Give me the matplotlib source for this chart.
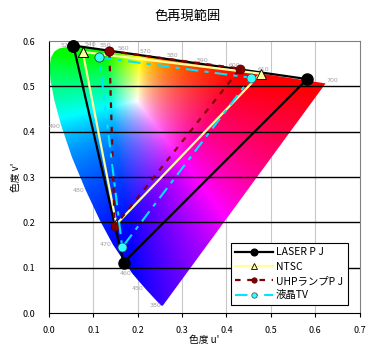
import numpy as np
import matplotlib
matplotlib.use('Agg')
import matplotlib.pyplot as plt
from matplotlib.path import Path
from matplotlib.patches import PathPatch

plt.rcParams['font.family'] = ['Noto Sans CJK JP', 'DejaVu Sans']

# spectral locus (CIE 1931 xy), wavelength in nm
wl = [380, 400, 420, 440, 450, 460, 470, 475, 480, 485, 490, 495, 500, 505, 510,
      515, 520, 525, 530, 535, 540, 545, 550, 555, 560, 570, 580, 590, 600, 610,
      620, 640, 660, 700]
loc_x = [0.1741, 0.1733, 0.1714, 0.1644, 0.1566, 0.1440, 0.1241, 0.1096, 0.0913,
         0.0687, 0.0454, 0.0235, 0.0082, 0.0039, 0.0139, 0.0389, 0.0743, 0.1142,
         0.1547, 0.1929, 0.2296, 0.2658, 0.3016, 0.3373, 0.3731, 0.4441, 0.5125,
         0.5752, 0.6270, 0.6658, 0.6915, 0.7190, 0.7300, 0.7347]
loc_y = [0.0050, 0.0048, 0.0051, 0.0109, 0.0177, 0.0297, 0.0578, 0.0868, 0.1327,
         0.2007, 0.2950, 0.4127, 0.5384, 0.6548, 0.7502, 0.8120, 0.8338, 0.8262,
         0.8059, 0.7816, 0.7543, 0.7243, 0.6923, 0.6589, 0.6245, 0.5547, 0.4866,
         0.4242, 0.3725, 0.3340, 0.3083, 0.2809, 0.2700, 0.2653]
lbl_wl = [380, 450, 460, 470, 480, 490, 520, 540, 550, 560, 570, 580, 590, 600, 610, 700]

# gamut primaries (G, R, B) in u'v'
laser_u = [0.055, 0.582, 0.168]
laser_v = [0.590, 0.516, 0.111]
ntsc_u = [0.076, 0.477, 0.152]
ntsc_v = [0.576, 0.528, 0.196]
uhp_u = [0.136, 0.431, 0.148]
uhp_v = [0.578, 0.539, 0.191]
lcd_u = [0.113, 0.455, 0.165]
lcd_v = [0.564, 0.519, 0.145]


def to_uv(x, y):
    x = np.asarray(x); y = np.asarray(y)
    d = -2 * x + 12 * y + 3
    return 4 * x / d, 9 * y / d


lu, lv = to_uv(loc_x, loc_y)

fig = plt.figure(figsize=(3.76, 3.53), dpi=100)
ax = fig.add_axes([0.1303, 0.1133, 0.826, 0.7705])

# colour fill of the horseshoe
n = 400
U, V = np.meshgrid(np.linspace(0, 0.7, n), np.linspace(0, 0.6, n))
den = 6 * U - 16 * V + 12
xx = 9 * U / den
yy = 4 * V / den
yy = np.maximum(yy, 1e-4)
X = xx / yy
Z = (1 - xx - yy) / yy
R = 3.2406 * X - 1.5372 - 0.4986 * Z
G = -0.9689 * X + 1.8758 + 0.0415 * Z
B = 0.0557 * X - 0.2040 + 1.0570 * Z
rgb = np.clip(np.dstack([R, G, B]), 0, None)
rgb = rgb / np.maximum(rgb.max(axis=2, keepdims=True), 1e-9)
rgb = rgb ** 1.8
rgb = np.where(rgb <= 0.0031308, 12.92 * rgb, 1.055 * rgb ** (1 / 2.4) - 0.055)
rgb = np.clip(rgb, 0, 1)

verts = list(zip(lu, lv)) + [(lu[0], lv[0])]
clip = PathPatch(Path(verts), facecolor='none', edgecolor='none')
ax.add_patch(clip)
im = ax.imshow(rgb, origin='lower', extent=[0, 0.7, 0, 0.6], aspect='auto',
               interpolation='bilinear', zorder=1)
im.set_clip_path(clip)

# wavelength labels
for w in lbl_wl:
    i = wl.index(w)
    if w <= 490:
        ax.text(lu[i] - 0.003, lv[i], str(w), fontsize=4.5, color='#a0a0a0',
                ha='right', va='center', zorder=3, family='DejaVu Sans')
    else:
        ax.text(lu[i] + 0.002, lv[i] + 0.002, str(w), fontsize=4.5, color='#a0a0a0',
                ha='left', va='bottom', zorder=3, family='DejaVu Sans')

# grid
for t in np.arange(0.1, 0.7, 0.1):
    ax.axvline(t, color='#c8c8c8', lw=0.8, zorder=0)
for t in np.arange(0.1, 0.6, 0.1):
    ax.axhline(t, color='black', lw=1.0, zorder=2)


def closed(a):
    return list(a) + [a[0]]


ax.plot(closed(laser_u), closed(laser_v), color='black', lw=1.6, marker='o', ms=8,
        mfc='black', mec='black', label='LASER P J', zorder=4, clip_on=False)
ax.plot(closed(ntsc_u), closed(ntsc_v), color='#ffff99', lw=1.6, marker='^', ms=7,
        mfc='#ffff99', mec='black', mew=0.6, label='NTSC', zorder=5, clip_on=False)
ax.plot(closed(uhp_u), closed(uhp_v), color='#800000', lw=1.6, ls=(0, (2.5, 3)),
        marker='o', ms=6.5, mfc='#800000', mec='#500000', mew=0.5,
        label='UHPランプP J', zorder=6, clip_on=False)
ax.plot(closed(lcd_u), closed(lcd_v), color='#00e5ff', lw=1.5, ls=(0, (6, 3, 2, 3)),
        marker='o', ms=6.5, mfc='#33ffff', mec='#404040', mew=0.5,
        label='液晶TV', zorder=7, clip_on=False)

ax.set_xlim(0, 0.7)
ax.set_ylim(0, 0.6)
ax.set_xticks(np.arange(0, 0.71, 0.1))
ax.set_yticks(np.arange(0, 0.61, 0.1))
ax.set_xticklabels(['%.1f' % t for t in np.arange(0, 0.71, 0.1)])
ax.set_yticklabels(['%.1f' % t for t in np.arange(0, 0.61, 0.1)])
ax.tick_params(labelsize=6.5, length=3, width=0.8, pad=6)
ax.tick_params(axis='y', length=0, pad=10)
for s in ['top', 'right']:
    ax.spines[s].set_color('#808080')

ax.set_xlabel("色度 u'", fontsize=7, labelpad=0)
ax.set_ylabel("色度 v'", fontsize=7, labelpad=1)
fig.text(0.5, 0.955, '色再現範囲', ha='center', va='center', fontsize=9.5)

leg = ax.legend(loc='lower right', bbox_to_anchor=(0.979, 0.01), fontsize=7.5,
                markerscale=0.6, handlelength=3.6, frameon=True, fancybox=False,
                edgecolor='black', framealpha=1, borderpad=0.45, labelspacing=0.42,
                handletextpad=0.3)
leg.get_frame().set_linewidth(0.8)
leg.set_zorder(10)

fig.savefig('out.png', dpi=100)
